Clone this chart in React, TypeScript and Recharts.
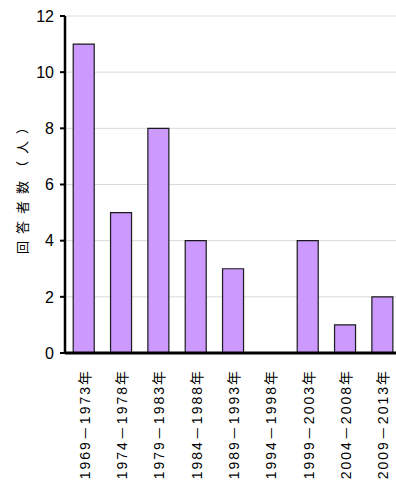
import React from 'react';
import { BarChart, Bar, XAxis, YAxis, CartesianGrid } from 'recharts';

const categories = [
  '1969－1973年',
  '1974－1978年',
  '1979－1983年',
  '1984－1988年',
  '1989－1993年',
  '1994－1998年',
  '1999－2003年',
  '2004－2008年',
  '2009－2013年',
];
const respondents = [11, 5, 8, 4, 3, 0, 4, 1, 2];
const yTicks = [0, 2, 4, 6, 8, 10, 12];
const yLabel = '回答者数（人）';

const data = categories.map((c, i) => ({ period: c, count: respondents[i] }));

const XTick = (props: any) => {
  const { x, y, payload } = props;
  return (
    <text
      transform={`translate(${x + 6},${y + 16}) rotate(-90)`}
      textAnchor="end"
      fontSize={14}
      letterSpacing={2}
      fill="#000"
      fontFamily="'Liberation Sans', 'Noto Sans CJK JP', sans-serif"
    >
      {payload.value}
    </text>
  );
};

const YLabel = () => (
  <text
    x={27}
    y={184}
    transform="rotate(-90 27 184)"
    textAnchor="middle"
    fontSize={13}
    letterSpacing={7}
    fill="#000"
    fontFamily="'Noto Sans CJK JP', sans-serif"
  >
    {yLabel}
  </text>
);

export default function App() {
  return (
    <div style={{ position: 'absolute', left: 0, top: 0, width: 396, height: 486, overflow: 'hidden', background: '#fff' }}>
      <BarChart
        width={410}
        height={486}
        data={data}
        margin={{ top: 16, right: 9, bottom: 8, left: 0 }}
        barCategoryGap="22%"
      >
        <CartesianGrid vertical={false} stroke="#d9d9d9" strokeWidth={1} />
        <XAxis
          dataKey="period"
          interval={0}
          tick={<XTick />}
          tickLine={false}
          tickSize={0}
          tickMargin={0}
          height={125}
          axisLine={{ stroke: '#000', strokeWidth: 3 }}
        />
        <YAxis
          width={65}
          domain={[0, 12]}
          ticks={yTicks}
          interval={0}
          tickSize={5}
          tickMargin={6}
          tickLine={{ stroke: '#000', strokeWidth: 2 }}
          axisLine={{ stroke: '#000', strokeWidth: 2.5 }}
          tick={{ fill: '#000', fontSize: 16, fontFamily: "'Liberation Sans', sans-serif" }}
          label={{ content: () => <YLabel /> }}
        />
        <Bar dataKey="count" fill="#CC99FF" stroke="#1a1a1a" strokeWidth={1.2} isAnimationActive={false} />
      </BarChart>
    </div>
  );
}
